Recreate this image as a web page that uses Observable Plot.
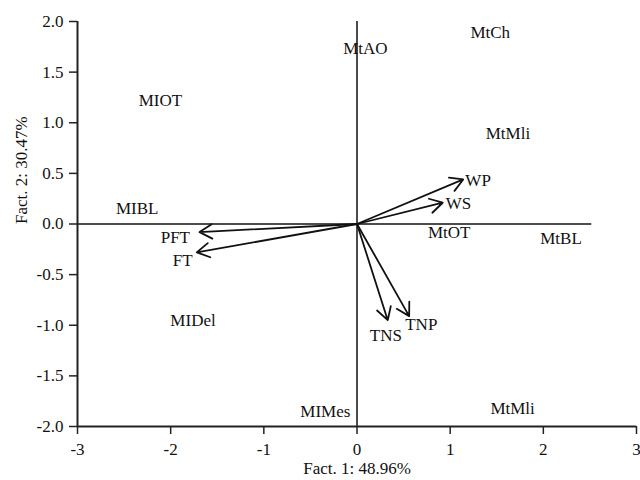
<!DOCTYPE html>
<html>
<head>
<meta charset="utf-8">
<script src="https://cdn.jsdelivr.net/npm/d3@7"></script>
<script src="https://cdn.jsdelivr.net/npm/@observablehq/plot@0.6"></script>
<style>
  html, body { margin: 0; padding: 0; background: #fff; }
</style>
</head>
<body>
<div id="chart"></div>
<script>
// Site scores (labels only)
const siteNames = ["MtAO", "MtCh", "MIOT", "MtMli", "MIBL", "MtOT", "MtBL", "MIDel", "MIMes", "MtMli"];
const siteX = [0.09, 1.43, -2.11, 1.62, -2.36, 0.99, 2.19, -1.76, -0.34, 1.67];
const siteY = [1.73, 1.89, 1.22, 0.89, 0.15, -0.08, -0.14, -0.95, -1.85, -1.82];

// Variable vectors (arrows)
const varNames = ["WP", "WS", "TNS", "TNP", "PFT", "FT"];
const varX = [1.14, 0.92, 0.33, 0.56, -1.69, -1.72];
const varY = [0.44, 0.21, -0.95, -0.91, -0.08, -0.28];
const varLabelX = [1.30, 1.09, 0.31, 0.69, -1.95, -1.87];
const varLabelY = [0.43, 0.20, -1.10, -0.99, -0.13, -0.36];

// Axis ticks and titles
const xTicks = [-3, -2, -1, 0, 1, 2, 3];
const yTicks = [-2, -1.5, -1, -0.5, 0, 0.5, 1, 1.5, 2];
const xTitle = "Fact. 1: 48.96%";
const yTitle = "Fact. 2: 30.47%";
const hLineEnd = 2.52;

const sites = siteNames.map((name, i) => ({name, x: siteX[i], y: siteY[i]}));
const vars = varNames.map((name, i) => ({name, x: varX[i], y: varY[i], lx: varLabelX[i], ly: varLabelY[i]}));

const chart = Plot.plot({
  width: 640,
  height: 480,
  marginLeft: 77,
  marginRight: 4,
  marginTop: 21,
  marginBottom: 54,
  x: {domain: [-3, 3]},
  y: {domain: [-2, 2]},
  style: {fontFamily: "'Liberation Serif', 'Times New Roman', serif", fontSize: "17px", color: "#111", background: "#fff", overflow: "visible"},
  marks: [
    // zero lines
    Plot.ruleY([0], {x1: -3, x2: hLineEnd, stroke: "#111", strokeWidth: 1.5}),
    Plot.ruleX([0], {y1: -2, y2: 2, stroke: "#111", strokeWidth: 1.5}),
    // axis lines
    Plot.ruleX([-3], {y1: -2, y2: 2, stroke: "#222", strokeWidth: 2}),
    Plot.ruleY([-2], {x1: -3, x2: 3, stroke: "#222", strokeWidth: 2}),
    Plot.axisX(xTicks, {tickSize: 8, tickPadding: 8, tickFormat: d => String(d), label: null, fontSize: 17, strokeWidth: 1.5, stroke: "#222", fill: "#111"}),
    Plot.axisY(yTicks, {tickSize: 8, tickPadding: 6, tickFormat: d => d.toFixed(1), label: null, fontSize: 17, strokeWidth: 1.5, stroke: "#222", fill: "#111"}),
    // axis titles
    Plot.text([xTitle], {frameAnchor: "bottom", dy: 42, lineAnchor: "middle", fontSize: 17, fill: "#111"}),
    Plot.text([yTitle], {frameAnchor: "left", rotate: -90, dx: -56, lineAnchor: "middle", fontSize: 17, fill: "#111"}),
    // site labels
    Plot.text(sites, {x: "x", y: "y", text: "name", fontSize: 17, fill: "#111"}),
    // arrows
    Plot.arrow(vars, {x1: 0, y1: 0, x2: "x", y2: "y", stroke: "#111", strokeWidth: 1.8, headLength: 12}),
    Plot.text(vars, {x: "lx", y: "ly", text: "name", fontSize: 17, fill: "#111"})
  ]
});
document.getElementById("chart").appendChild(chart);
</script>
</body>
</html>
